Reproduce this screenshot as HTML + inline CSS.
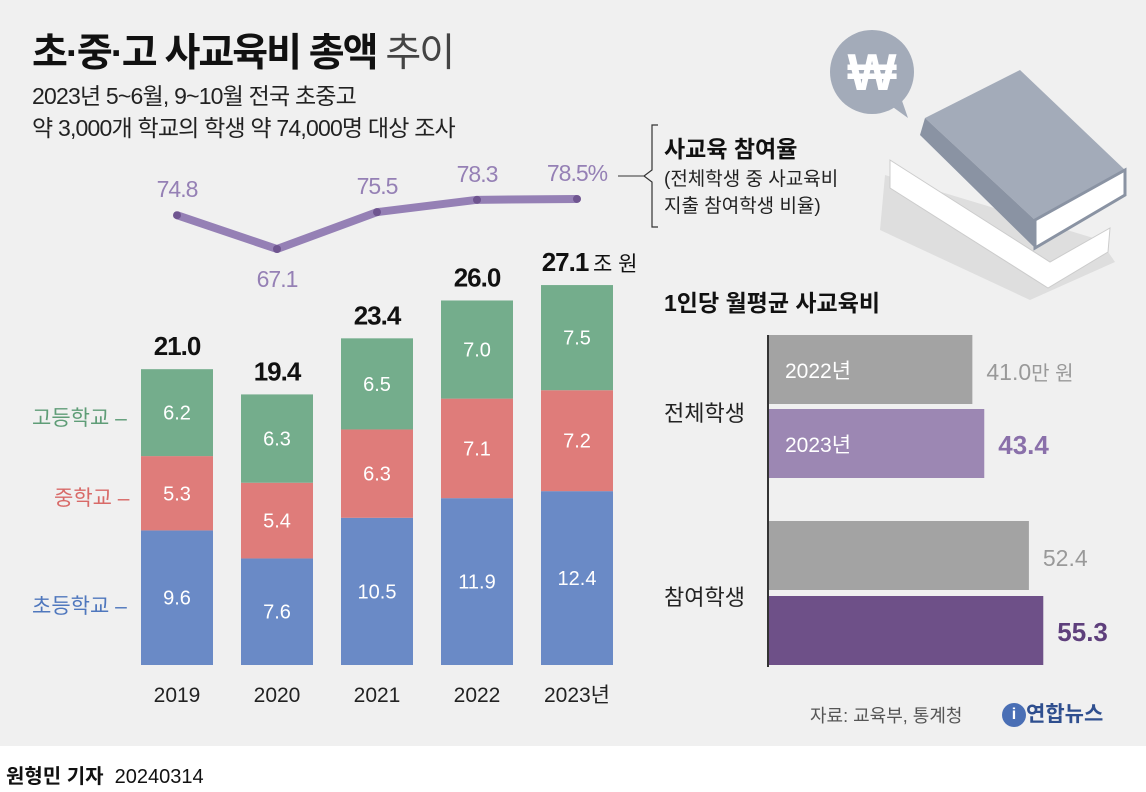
<!DOCTYPE html>
<html><head><meta charset="utf-8">
<style>
body{margin:0;width:1146px;height:792px;overflow:hidden;background:#fff;font-family:"Liberation Sans","Noto Sans CJK KR",sans-serif;}
#main{position:absolute;left:0;top:0;width:1146px;height:746px;background:#f0f0f0;}
.t{position:absolute;white-space:nowrap;}
</style></head><body>
<div id="main"></div>
<div class="t" style="left:32px;top:22px;font-size:39px;font-weight:bold;color:#111;letter-spacing:-2px">초·중·고 사교육비 총액 <span style="font-weight:normal;color:#444">추이</span></div>
<div class="t" style="left:32px;top:80px;font-size:23px;color:#222;line-height:32px;letter-spacing:-0.8px">2023년 5~6월, 9~10월 전국 초중고<br>약 3,000개 학교의 학생 약 74,000명 대상 조사</div>
<svg id="chart" width="1146" height="792" style="position:absolute;left:0;top:0">
<g>
<polygon points="885,175 1100,240 1115,262 1030,300 880,230" fill="#dedede"/>
<polygon points="890,160 1050,262 1110,228 1108,252 1048,288 890,188" fill="#fff" stroke="#ccc"/>
<polygon points="925,118 1020,70 1125,170 1035,220" fill="#a3abb9"/>
<polygon points="925,118 1035,220 1035,248 920,135" fill="#8a93a3"/>
<polygon points="1035,220 1125,170 1125,195 1035,248" fill="#fff" stroke="#8a93a3" stroke-width="3"/>
<circle cx="872" cy="72" r="42" fill="#a3abb9"/>
<polygon points="890,105 908,118 900,95" fill="#a3abb9"/>
<text x="872" y="90" text-anchor="middle" font-size="52" font-weight="bold" fill="#fff" font-family="Liberation Sans,sans-serif">₩</text>
</g>
<path d="M658,125 h-6 v45 l-8,6 l8,6 v45 h6" fill="none" stroke="#333" stroke-width="1.2"/>
<line x1="644" y1="176" x2="618" y2="176" stroke="#333" stroke-width="1"/>
<g id="bars"></g><g id="line"></g><g id="hbars"></g>
<line x1="768" y1="335" x2="768" y2="667" stroke="#333" stroke-width="2"/>
</svg>
<div class="t" style="left:664px;top:130px;font-size:23px;font-weight:bold;color:#111">사교육 참여율</div>
<div class="t" style="left:664px;top:166px;font-size:19px;color:#222;line-height:27px">(전체학생 중 사교육비<br>지출 참여학생 비율)</div>
<div class="t" style="left:664px;top:284px;font-size:23px;font-weight:bold;color:#111">1인당 월평균 사교육비</div>
<div class="t" style="left:664px;top:396px;font-size:22px;color:#222">전체학생</div>
<div class="t" style="left:664px;top:580px;font-size:22px;color:#222">참여학생</div>
<div class="t" style="left:32px;top:402px;font-size:21px;color:#5f9d77">고등학교 –</div>
<div class="t" style="left:54px;top:482px;font-size:21px;color:#d86a68">중학교 –</div>
<div class="t" style="left:32px;top:590px;font-size:21px;color:#4f77bd">초등학교 –</div>
<div class="t" style="left:810px;top:702px;font-size:18px;color:#555">자료: 교육부, 통계청</div>
<div class="t" style="left:1002px;top:698px;font-size:21px;font-weight:bold;color:#2f4f8f"><span style="display:inline-block;width:24px;height:24px;border-radius:50%;background:#4a6fb5;color:#fff;text-align:center;font-size:16px;line-height:24px;vertical-align:middle">i</span>연합뉴스</div>
<div class="t" style="left:6px;top:760px;font-size:20px;color:#111"><b>원형민 기자</b>&nbsp; 20240314</div>
<script>
const years=["2019","2020","2021","2022","2023년"];
const elem=[9.6,7.6,10.5,11.9,12.4];
const mid=[5.3,5.4,6.3,7.1,7.2];
const high=[6.2,6.3,6.5,7.0,7.5];
const totals=["21.0","19.4","23.4","26.0","27.1"];
const rate=[74.8,67.1,75.5,78.3,78.5];
const hCats=["2022년","2023년","",""];
const hVals=[41.0,43.4,52.4,55.3];
const NS="http://www.w3.org/2000/svg";
function mk(p,tag,a,txt){const e=document.createElementNS(NS,tag);for(const k in a)e.setAttribute(k,a[k]);if(txt!==undefined)e.textContent=txt;p.appendChild(e);return e;}
const xC=i=>177+i*100, base=665, ys=v=>v*14.02;
const bars=document.getElementById('bars');
const segs=[[elem,"#6a8ac6","elementary"],[mid,"#df7c7a","middle"],[high,"#74ad8c","high"]];
for(let i=0;i<years.length;i++){
  let y=base;
  for(const [arr,col,nm] of segs){
    const h=ys(arr[i]);
    const r=mk(bars,'rect',{x:xC(i)-36,y:y-h,width:72,height:h,fill:col});
    
    
    const t=mk(bars,'text',{x:xC(i),y:y-h/2+7,'text-anchor':'middle','font-size':20,fill:'#fff'},arr[i].toFixed(1));
    
    
    y-=h;
  }
  const tt=mk(bars,'text',{x:xC(i)+(i==4?-12:0),y:y-14,'text-anchor':'middle','font-size':26,'font-weight':'bold',fill:'#111','letter-spacing':'-1'},totals[i]);
  
  
  if(i==4){const u=mk(bars,'text',{x:xC(i)+16,y:y-14,'font-size':21,fill:'#111'},'조 원');}
  const xl=mk(bars,'text',{x:xC(i),y:702,'text-anchor':'middle','font-size':21,fill:'#222'},years[i]);
  
  
}
const line=document.getElementById('line');
const yR=v=>249-(v-67.1)*4.39;
const pl=mk(line,'polyline',{points:rate.map((v,i)=>xC(i)+','+yR(v)).join(' '),fill:'none',stroke:'#9580b5','stroke-width':8,'stroke-linejoin':'round'});


rate.forEach((v,i)=>{
  const c=mk(line,'circle',{cx:xC(i),cy:yR(v),r:4,fill:'#6f5590'});
  
  
  const below=i>0&&v<rate[i-1]&&(i==rate.length-1||v<rate[i+1]);
  const t=mk(line,'text',{x:xC(i)+(i==4?0:0),y:below?yR(v)+38:yR(v)-18,'text-anchor':'middle','font-size':23,fill:'#9580b5','letter-spacing':'-1'},v.toFixed(1)+(i==4?'%':''));
  
  
});
const hb=document.getElementById('hbars');
const hY=[335,409,521,596],hCol=["#a3a3a3","#9c87b3","#a3a3a3","#6e5088"],hTxt=["#999","#8a70aa","#999","#5e3f7c"];
hVals.forEach((v,i)=>{
  const w=v*4.96;
  const r=mk(hb,'rect',{x:769,y:hY[i],width:w,height:69,fill:hCol[i]});
  
  
  if(hCats[i]){const c=mk(hb,'text',{x:785,y:hY[i]+43,'font-size':21,fill:'#fff'},hCats[i]);}
  const bold=(i%2==1);
  const t=mk(hb,'text',{x:769+w+14,y:hY[i]+45,'font-size':bold?26:23,'font-weight':bold?'bold':'normal',fill:hTxt[i]},v.toFixed(1));
  
  
  if(i==0){const u=mk(hb,'tspan',{'font-size':20},'만 원');t.appendChild(u);}
});
</script>
</body></html>
